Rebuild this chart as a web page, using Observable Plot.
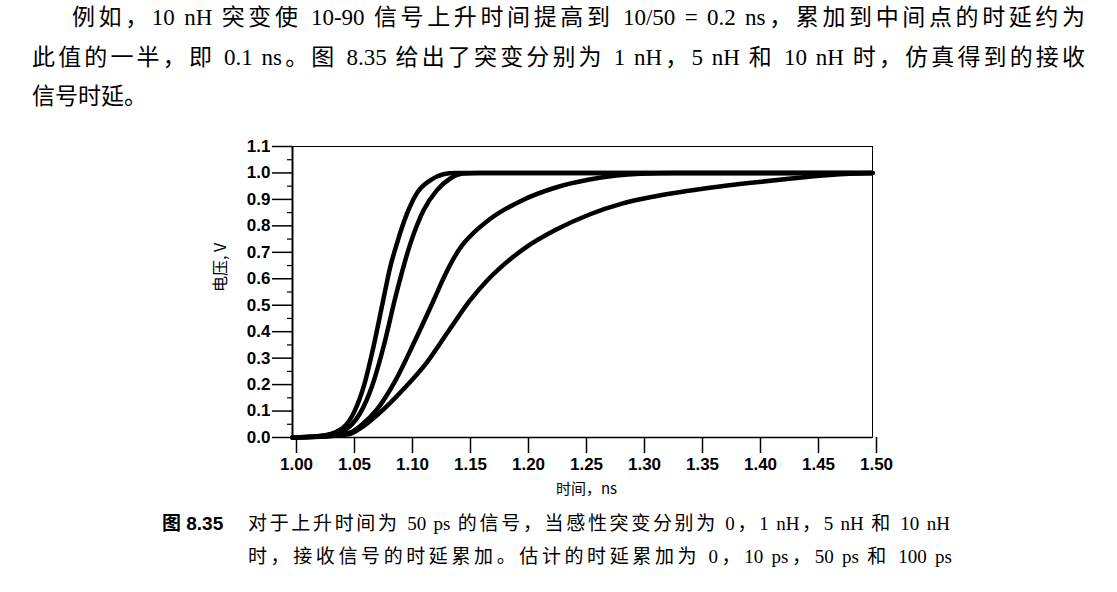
<!DOCTYPE html>
<html>
<head>
<meta charset="utf-8">
<script src="https://cdn.jsdelivr.net/npm/d3@7"></script>
<script src="https://cdn.jsdelivr.net/npm/@observablehq/plot@0.6"></script>
<style>
  html, body { margin: 0; padding: 0; background: #fff; }
  body { width: 1117px; height: 592px; overflow: hidden; position: relative; color: #000;
         font-family: "Liberation Serif", "Noto Sans CJK SC", serif; }
  .line { position: absolute; font-size: 23px; line-height: 26px; height: 26px; white-space: normal;
          text-align: justify; text-align-last: justify; }
  .last { text-align: left; text-align-last: left; }
  #chart { position: absolute; left: 0; top: 120px; }
  .cap { position: absolute; font-size: 19px; line-height: 22px; height: 22px;
         text-align: justify; text-align-last: justify; }
  .fig { position: absolute; font-size: 19px; line-height: 22px; font-weight: bold;
         font-family: "Liberation Sans", "Noto Sans CJK SC", sans-serif; }
</style>
</head>
<body>
<div class="line" style="left:72px; top:5px; width:1013px;">例如，10 nH 突变使 10-90 信号上升时间提高到 10/50 = 0.2 ns，累加到中间点的时延约为</div>
<div class="line" style="left:32px; top:45px; width:1053px;">此值的一半，即 0.1 ns。图 8.35 给出了突变分别为 1 nH，5 nH 和 10 nH 时，仿真得到的接收</div>
<div class="line last" style="left:32px; top:84px; width:400px;">信号时延。</div>
<div id="chart"></div>
<div class="fig" style="left:162px; top:513px;">图 8.35</div>
<div class="cap" style="left:248px; top:513px; width:702px;">对于上升时间为 50 ps 的信号，当感性突变分别为 0，1 nH，5 nH 和 10 nH</div>
<div class="cap" style="left:248px; top:546px; width:704px;">时，接收信号的时延累加。估计的时延累加为 0，10 ps，50 ps 和 100 ps</div>
<script>
// ---- data ----
const seriesNames = ["0 nH", "1 nH", "5 nH", "10 nH"];

const t0 = [1.00, 1.02, 1.03, 1.038, 1.044, 1.053, 1.0616, 1.070, 1.0787, 1.084, 1.090, 1.0987, 1.107, 1.1187, 1.130, 1.140, 1.20, 1.30, 1.40, 1.50];
const v0 = [0.000, 0.004, 0.010, 0.022, 0.038, 0.095, 0.196, 0.347, 0.530, 0.640, 0.733, 0.846, 0.922, 0.972, 0.995, 1.000, 1.000, 1.000, 1.000, 1.000];

const t1 = [1.00, 1.02, 1.03, 1.040, 1.049, 1.0587, 1.0687, 1.0787, 1.0887, 1.1016, 1.113, 1.1244, 1.136, 1.147, 1.160, 1.20, 1.30, 1.40, 1.50];
const v1 = [0.000, 0.004, 0.010, 0.018, 0.040, 0.095, 0.196, 0.347, 0.530, 0.733, 0.859, 0.934, 0.979, 0.998, 1.000, 1.000, 1.000, 1.000, 1.000];

const t5 = [1.00, 1.03, 1.04, 1.05, 1.0587, 1.073, 1.0887, 1.1044, 1.1216, 1.130, 1.1387, 1.146, 1.153, 1.170, 1.1987, 1.227, 1.256, 1.279, 1.300, 1.330, 1.40, 1.50];
const v5 = [0.000, 0.006, 0.012, 0.019, 0.044, 0.107, 0.215, 0.355, 0.518, 0.600, 0.675, 0.725, 0.760, 0.825, 0.898, 0.945, 0.975, 0.990, 0.997, 1.000, 1.000, 1.000];

const t10 = [1.00, 1.03, 1.04, 1.05, 1.0616, 1.0787, 1.0958, 1.1159, 1.1357, 1.153, 1.167, 1.180, 1.200, 1.227, 1.256, 1.284, 1.313, 1.340, 1.370, 1.400, 1.430, 1.460, 1.480, 1.500];
const v10 = [0.000, 0.004, 0.008, 0.014, 0.044, 0.107, 0.183, 0.284, 0.410, 0.518, 0.590, 0.645, 0.715, 0.785, 0.843, 0.884, 0.912, 0.932, 0.950, 0.965, 0.979, 0.991, 0.997, 1.000];

const xTicks = [1.00, 1.05, 1.10, 1.15, 1.20, 1.25, 1.30, 1.35, 1.40, 1.45, 1.50];
const yTicks = [0.0, 0.1, 0.2, 0.3, 0.4, 0.5, 0.6, 0.7, 0.8, 0.9, 1.0, 1.1];
const yMinorTicks = [0.05, 0.15, 0.25, 0.35, 0.45, 0.55, 0.65, 0.75, 0.85, 0.95, 1.05];
const xLabel = "时间，ns";
const yLabel = "电压, V";

// ---- build table ----
const times = [t0, t1, t5, t10];
const volts = [v0, v1, v5, v10];
const rows = [];
seriesNames.forEach((name, k) => {
  times[k].forEach((t, i) => rows.push({series: name, t, v: volts[k][i]}));
});

const chart = Plot.plot({
  width: 1117,
  height: 385,
  marginLeft: 292,
  marginRight: 245,
  marginTop: 26,
  marginBottom: 68,
  style: {background: "transparent", color: "#000", fontFamily: "'Liberation Sans', Arial, sans-serif"},
  x: {domain: [1.0, 1.5]},
  y: {domain: [0, 1.1]},
  marks: [
    Plot.axisY(yTicks, {tickSize: 20, tickPadding: 2, tickFormat: d3.format(".1f"), fontSize: 17, fontWeight: "bold", strokeWidth: 1.5, label: null}),
    Plot.axisY(yMinorTicks, {tickSize: 5, tickFormat: () => "", strokeWidth: 1.2, label: null}),
    Plot.axisX(xTicks, {tickSize: 16, tickPadding: 4, tickFormat: d3.format(".2f"), fontSize: 17, fontWeight: "bold", dx: 4, strokeWidth: 1.5, label: null}),
    Plot.frame({stroke: "#000", strokeWidth: 1}),
    Plot.ruleX([1.0], {stroke: "#000", strokeWidth: 2}),
    Plot.ruleY([0], {stroke: "#000", strokeWidth: 1.5}),
    Plot.line(rows, {x: "t", y: "v", z: "series", stroke: "#000", strokeWidth: 4.5, curve: "monotone-x"}),
    Plot.text([yLabel], {text: d => d, frameAnchor: "left", dx: -72, rotate: -90, fontSize: 16,
      fontFamily: "'Noto Sans CJK SC', sans-serif", fill: "#000"}),
    Plot.text([xLabel], {text: d => d, frameAnchor: "bottom", dy: 56, dx: 4, fontSize: 15,
      fontFamily: "'Noto Sans CJK SC', sans-serif", fill: "#000"})
  ]
});
document.getElementById("chart").appendChild(chart);
</script>
</body>
</html>
